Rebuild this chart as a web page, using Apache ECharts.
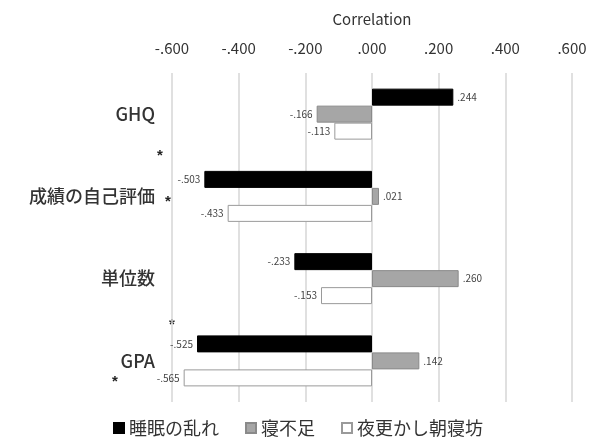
<!DOCTYPE html>
<html><head><meta charset="utf-8">
<script src="https://cdn.jsdelivr.net/npm/echarts@6/dist/echarts.min.js"></script>
<style>html,body{margin:0;padding:0;background:#fff}#c{width:592px;height:439px}</style>
</head><body><div id="c"></div>
<script>
const categories = ['GHQ', '成績の自己評価', '単位数', 'GPA'];
const seriesNames = ['睡眠の乱れ', '寝不足', '夜更かし朝寝坊'];
const sleepDisorder = [0.244, -0.503, -0.233, -0.525];
const sleepShortage = [-0.166, 0.021, 0.260, 0.142];
const lateNight = [-0.113, -0.433, -0.153, -0.565];
const tickValues = [-0.6, -0.4, -0.2, 0, 0.2, 0.4, 0.6];

const fmt = v => { const s = Math.abs(v).toFixed(3).replace(/^0/, ''); return (v < 0 ? '-' : '') + s; };
const font = '"Noto Sans CJK JP", "Noto Sans", sans-serif';

const styles = [
  {color: '#000000', borderColor: '#000000'},
  {color: '#a6a6a6', borderColor: '#8a8a8a'},
  {color: '#ffffff', borderColor: '#9a9a9a'}
];
const datas = [sleepDisorder, sleepShortage, lateNight];

const chart = echarts.init(document.getElementById('c'));
chart.setOption({
  animation: false,
  textStyle: {fontFamily: font},
  grid: {left: 172, right: 20, top: 73, bottom: 37, containLabel: false},
  xAxis: {
    type: 'value', position: 'top', min: -0.6, max: 0.6, interval: 0.2,
    name: 'Correlation', nameLocation: 'middle', nameGap: 46,
    nameTextStyle: {color: '#333', fontSize: 15, fontFamily: font},
    axisLine: {show: false}, axisTick: {show: false},
    axisLabel: {formatter: fmt, color: '#333', fontSize: 15, margin: 17, fontFamily: font},
    splitLine: {show: true, lineStyle: {color: '#d6d6d6', width: 1.5}}
  },
  yAxis: {
    type: 'category', data: categories, inverse: true,
    axisLine: {show: false}, axisTick: {show: false},
    axisLabel: {color: '#333', fontSize: 18, margin: 17, fontFamily: font, fontWeight: 500}
  },
  legend: {
    bottom: -3, left: 108, itemWidth: 10, itemHeight: 10, itemGap: 26,
    icon: 'rect',
    textStyle: {color: '#333', fontSize: 18, fontFamily: font},
    data: seriesNames
  },
  series: seriesNames.map((n, i) => ({
    name: n, type: 'bar', barWidth: 17, barGap: '0%',
    itemStyle: Object.assign({borderWidth: 1}, styles[i]),
    label: {
      show: true, fontSize: 10, color: '#444', fontFamily: font, distance: 4,
      formatter: p => fmt(p.value)
    },
    data: datas[i].map(v => ({value: v, label: {position: v < 0 ? 'left' : 'right'}}))
  })),
  graphic: [
    {type: 'text', left: 157, top: 148, style: {text: '*', fontSize: 15, fill: '#222', fontWeight: 'bold'}},
    {type: 'text', left: 165, top: 194, style: {text: '*', fontSize: 15, fill: '#222', fontWeight: 'bold'}},
    {type: 'text', left: 169, top: 317, style: {text: '*', fontSize: 15, fill: '#222', fontWeight: 'bold'}},
    {type: 'text', left: 112, top: 374, style: {text: '*', fontSize: 15, fill: '#222', fontWeight: 'bold'}}
  ]
});
</script></body></html>
